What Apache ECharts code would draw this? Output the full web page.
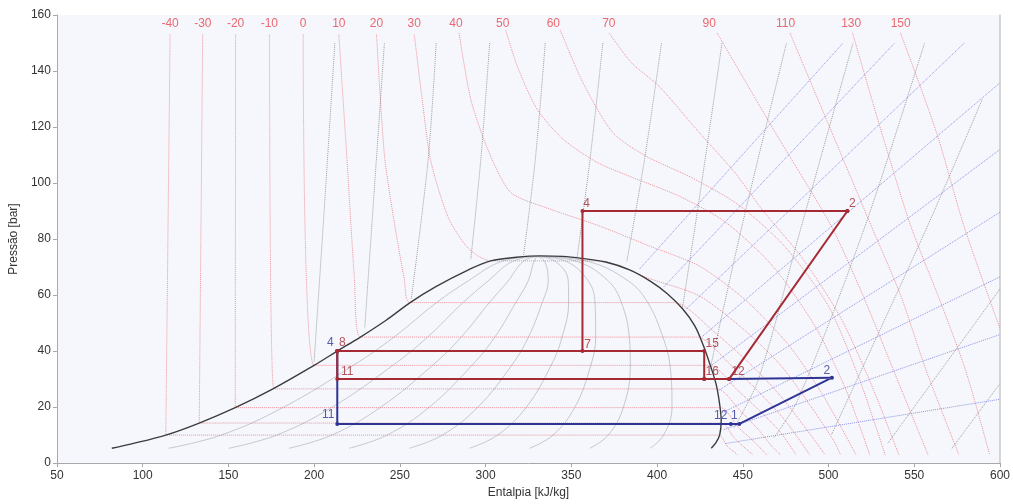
<!DOCTYPE html>
<html><head><meta charset="utf-8">
<script src="https://cdn.jsdelivr.net/npm/echarts@6/dist/echarts.min.js"></script>
<style>html,body{margin:0;padding:0;background:#fff}#c{width:1013px;height:504px}</style>
</head><body><div id="c"></div>
<script>
// ---- axis ticks ----
const xTicks = [50,100,150,200,250,300,350,400,450,500,550,600];
const yTicks = [0,20,40,60,80,100,120,140,160];

// ---- saturation dome [h, P] ----
const dome = [[82,5.3],[93,6.8],[113.5,10],[133,14.3],[154,19.8],[176,26.5],[200,34.9],[213.5,40],[227,45],[242,51],[256,57.3],[271,63],[290,69],[303,72.2],[318,73.5],[332,74],[345,73.8],[356,73.1],[370,71.8],[384,69],[396,65],[406,60.5],[415,55],[422,49],[427,42],[431,35],[434.5,28],[436.5,21],[437.4,15],[436.5,10],[434,7],[431.6,5.3]];

// ---- quality lines x = 0.1 .. 0.9 ----
const qualityP = [5.3,10,20,35,45,57.3,65,72,73.8];
const qualityH = [
 [115.1,145.8,182.3,223.1,246.6,271.4,289.7,309.3,330],
 [150.2,178.1,210.6,246.1,266.2,286.8,301.4,315.6,330],
 [185.3,210.3,238.9,269.2,285.8,302.2,313.1,321.9,330],
 [220.4,242.5,267.2,292.2,305.4,317.6,324.8,328.2,330],
 [255.5,274.8,295.5,315.3,325,333,336.5,334.5,330],
 [290.6,307,323.8,338.3,344.6,348.4,348.2,340.8,330],
 [325.7,339.3,352.1,361.4,364.2,363.8,359.9,347.1,330],
 [360.8,371.5,380.4,384.4,383.8,379.2,371.6,353.4,330],
 [395.9,403.8,408.7,407.5,403.4,394.6,383.3,359.7,330]
];

// ---- isotherms (°C) ----
const isoTemps = [-40,-30,-20,-10,0,10,20,30,40,50,60,70,90,110,130,150];
const isoLabelH = [116,135.1,154.2,173.9,193.6,214.4,236.4,258.4,282.7,310,339.5,371.9,430.4,475,513.2,542.1];
const isoLabelP = 156.8;
const isotherms = [
 [[116,153],[113.5,10],[436,10],[441,6],[447,3]],
 [[135,153],[133,14.3],[437.5,14.3],[445,9],[452,5],[456,3]],
 [[154.2,153],[154,19.8],[437,19.8],[447,13],[456,8],[464,3]],
 [[174,153],[176.5,26.5],[435,26.5],[448,19],[459,12],[467,6],[472,3]],
 [[193.6,153],[200,34.9],[430.5,34.9],[447,26],[461,18],[472,11],[481,3]],
 [[214.4,153],[219,110],[223.5,66],[227,45],[423,45],[443,35],[460,25],[475,15],[489,3]],
 [[236.4,153],[241,110],[247,85],[252.6,65.8],[256,57.3],[410,57.3],[433,47],[455,35],[472,24],[486,13],[498,3]],
 [[258.4,153],[263,130],[268,108],[278,88],[288,78],[295.5,74],[303,72.2],[367,72.2],[395,66],[424.6,59.7],[450,48],[472,35],[490,20],[503,8],[507,3]],
 [[284.5,153.6],[291.4,129.8],[301.3,112],[314.6,96.7],[337.7,90.7],[366.7,84.6],[395.6,77.5],[424.6,70.4],[452,58],[477,42],[497,24],[516,3]],
 [[311.7,154.7],[318.6,141.5],[330.2,126.2],[345.3,115.6],[365,107.4],[384,102.4],[413,95.3],[440,86],[468,70],[493,48],[511,25],[524,3]],
 [[343.5,154.7],[356.8,135.8],[374.2,118],[393.9,109.5],[420,102],[448,92],[475,77],[500,56],[518,30],[533,3]],
 [[372,153.6],[385,143],[401.4,134.4],[424.6,118],[445,104],[462,90],[485,73],[507,52],[525,28],[541,3]],
 [[435,153.6],[469,118],[501.6,84.6],[520,60],[538,33],[558,3]],
 [[477.5,153.6],[502,118],[525,84.6],[542,60],[557,33],[576,3]],
 [[514,153.6],[531,118],[548,84.6],[565,58],[580,33],[594,3]],
 [[542,153.6],[563,118],[579,84.6],[600,48]]
];

// ---- isentropes ----
const isentropes = [
 [[212.1,150],[206.3,94.2],[200,36.3]],
 [[241,150],[234.7,94.2],[229.5,48]],
 [[271.2,150],[266.5,108.4],[256.7,58.7]],
 [[302.4,150],[297.2,108.4],[291.4,72.9]],
 [[334.8,150],[329,108.4],[322.1,74]],
 [[368.4,150],[360.9,108.4],[353.4,73.6]],
 [[402.6,150],[392.7,108.4],[382.3,71.8]],
 [[437.9,150],[424.6,94.2],[414.7,55.1]],
 [[475.5,150],[449.5,84.6],[430.4,32]],
 [[514.3,150],[484.2,84.6],[459.3,30.2],[444.8,12.4]],
 [[556,150],[521.3,84.6],[482.5,23.1],[468,8.9]],
 [[589.6,129.8],[557.7,84.6],[501.6,10]],
 [[534.6,7.1],[600,62.2]],
 [[572,5.3],[600,28.4]]
];

// ---- isochores ----
const isochores = [
 [[389.8,69.3],[508.5,150]],
 [[404,63],[538.6,150]],
 [[417,55],[579.2,150]],
 [[426,45],[600,135.8]],
 [[432,35],[600,112]],
 [[436,26],[600,89.6]],
 [[438,18],[600,66.5]],
 [[439,12],[600,45.9]],
 [[440,7],[600,22.8]]
];

// ---- cycles ----
const redPoints = {p4:[356.5,90], p2:[511,90], p7:[356.5,40], p8:[213.5,40], p15:[427.5,40], p16:[427.5,30], p11:[213.5,30], p12:[442,30]};
const redPaths = [
 [redPoints.p2, redPoints.p4, redPoints.p7],
 [redPoints.p8, redPoints.p15, redPoints.p16],
 [redPoints.p8, redPoints.p11, redPoints.p16, redPoints.p12, redPoints.p2]
];
const redLabels = [['4',redPoints.p4,[4,0]],['2',redPoints.p2,[5,0]],['7',redPoints.p7,[5,1]],['8',redPoints.p8,[5,-1]],['11',redPoints.p11,[10,0]],['15',redPoints.p15,[8,0]],['16',redPoints.p16,[8,0]],['12',redPoints.p12,[9,0]]];

const bluePoints = {p4:[213.5,40], p11:[213.5,14], p12:[443,14], p1:[448,14], p2:[502,30.5], p12r:[442,30]};
const bluePath = [bluePoints.p4, bluePoints.p11, bluePoints.p12, bluePoints.p1, bluePoints.p2, bluePoints.p12r];
const blueLabels = [['4',bluePoints.p4,[-7,-1]],['11',bluePoints.p11,[-9,-2]],['12',bluePoints.p12,[-10,-1]],['1',bluePoints.p1,[-5,-1]],['2',bluePoints.p2,[-5,0]]];

const FONT = "'Liberation Sans', Arial, sans-serif";
const series = [];
qualityH.forEach(row => series.push({type:'line', data: row.map((h,i)=>[h, qualityP[i]]), smooth:0.4, showSymbol:false, silent:true, z:1,
  lineStyle:{color:'#c4c8d4', width:1}}));
isotherms.forEach(l => series.push({type:'line', data:l, smooth:0.25, showSymbol:false, silent:true, z:2,
  lineStyle:{color:'rgba(236,110,120,0.75)', width:1, type:'dotted'}}));
isentropes.forEach(l => series.push({type:'line', data:l, smooth:0.3, showSymbol:false, silent:true, z:2,
  lineStyle:{color:'rgba(120,120,120,0.7)', width:1, type:'dotted'}}));
isochores.forEach(l => series.push({type:'line', data:l, showSymbol:false, silent:true, z:2,
  lineStyle:{color:'rgba(110,110,220,0.75)', width:1, type:'dotted'}}));
series.push({type:'line', data:dome, smooth:0.35, showSymbol:false, silent:true, z:3, lineStyle:{color:'#3c3c3c', width:1.4}});
series.push({type:'line', data:bluePath, showSymbol:true, symbol:'circle', symbolSize:4, z:4,
  itemStyle:{color:'#2f3494'}, lineStyle:{color:'#2f3494', width:2}});
redPaths.forEach(p => series.push({type:'line', data:p, showSymbol:true, symbol:'circle', symbolSize:4, z:5,
  itemStyle:{color:'#a52a33'}, lineStyle:{color:'#a52a33', width:2}}));
function labelSeries(list, color){
  return {type:'scatter', symbolSize:0, z:6, silent:true,
    data: list.map(([t,p,off]) => ({value:p, label:{show:true, formatter:t, position:'top', distance:0, offset:[off[0], off[1]-1], color:color, fontSize:12, fontFamily:FONT}}))};
}
series.push(labelSeries(redLabels, '#a52a33'));
series.push(labelSeries(blueLabels, '#2f3494'));
series.push({type:'scatter', symbolSize:0, z:6, silent:true,
  data: isoTemps.map((t,i)=>({value:[isoLabelH[i], isoLabelP], label:{show:true, formatter:String(t), position:'inside', color:'#e8434c', fontSize:12, fontFamily:FONT}}))});

const chart = echarts.init(document.getElementById('c'), null, {renderer:'canvas'});
chart.setOption({
  animation:false,
  backgroundColor:'#ffffff',
  grid:{left:53, right:10, top:15, bottom:39, show:true, backgroundColor:'#f5f7fc', borderWidth:0},
  xAxis:{type:'value', min:xTicks[0], max:xTicks[xTicks.length-1], interval:50,
    name:'Entalpia [kJ/kg]', nameLocation:'middle', nameGap:22,
    nameTextStyle:{color:'#333', fontSize:12, fontFamily:FONT},
    axisLine:{show:true, lineStyle:{color:'#a8a8a8', width:1}},
    axisTick:{show:true, length:4, lineStyle:{color:'#a8a8a8'}},
    axisLabel:{color:'#333', fontSize:12, fontFamily:FONT, margin:7},
    splitLine:{show:false}},
  yAxis:[{type:'value', min:yTicks[0], max:yTicks[yTicks.length-1], interval:20,
    name:'Pressão [bar]', nameLocation:'middle', nameGap:33,
    nameTextStyle:{color:'#333', fontSize:12, fontFamily:FONT},
    axisLine:{show:true, lineStyle:{color:'#a8a8a8', width:1}},
    axisTick:{show:true, length:4, lineStyle:{color:'#a8a8a8'}},
    axisLabel:{color:'#333', fontSize:12, fontFamily:FONT, margin:6},
    splitLine:{show:false}},
   {type:'value', position:'right', min:yTicks[0], max:yTicks[yTicks.length-1], interval:20,
    axisLine:{show:true, lineStyle:{color:'#c8c8c8', width:1.5}}, axisTick:{show:false}, axisLabel:{show:false}, splitLine:{show:false}}],
  series: series
});
</script></body></html>
